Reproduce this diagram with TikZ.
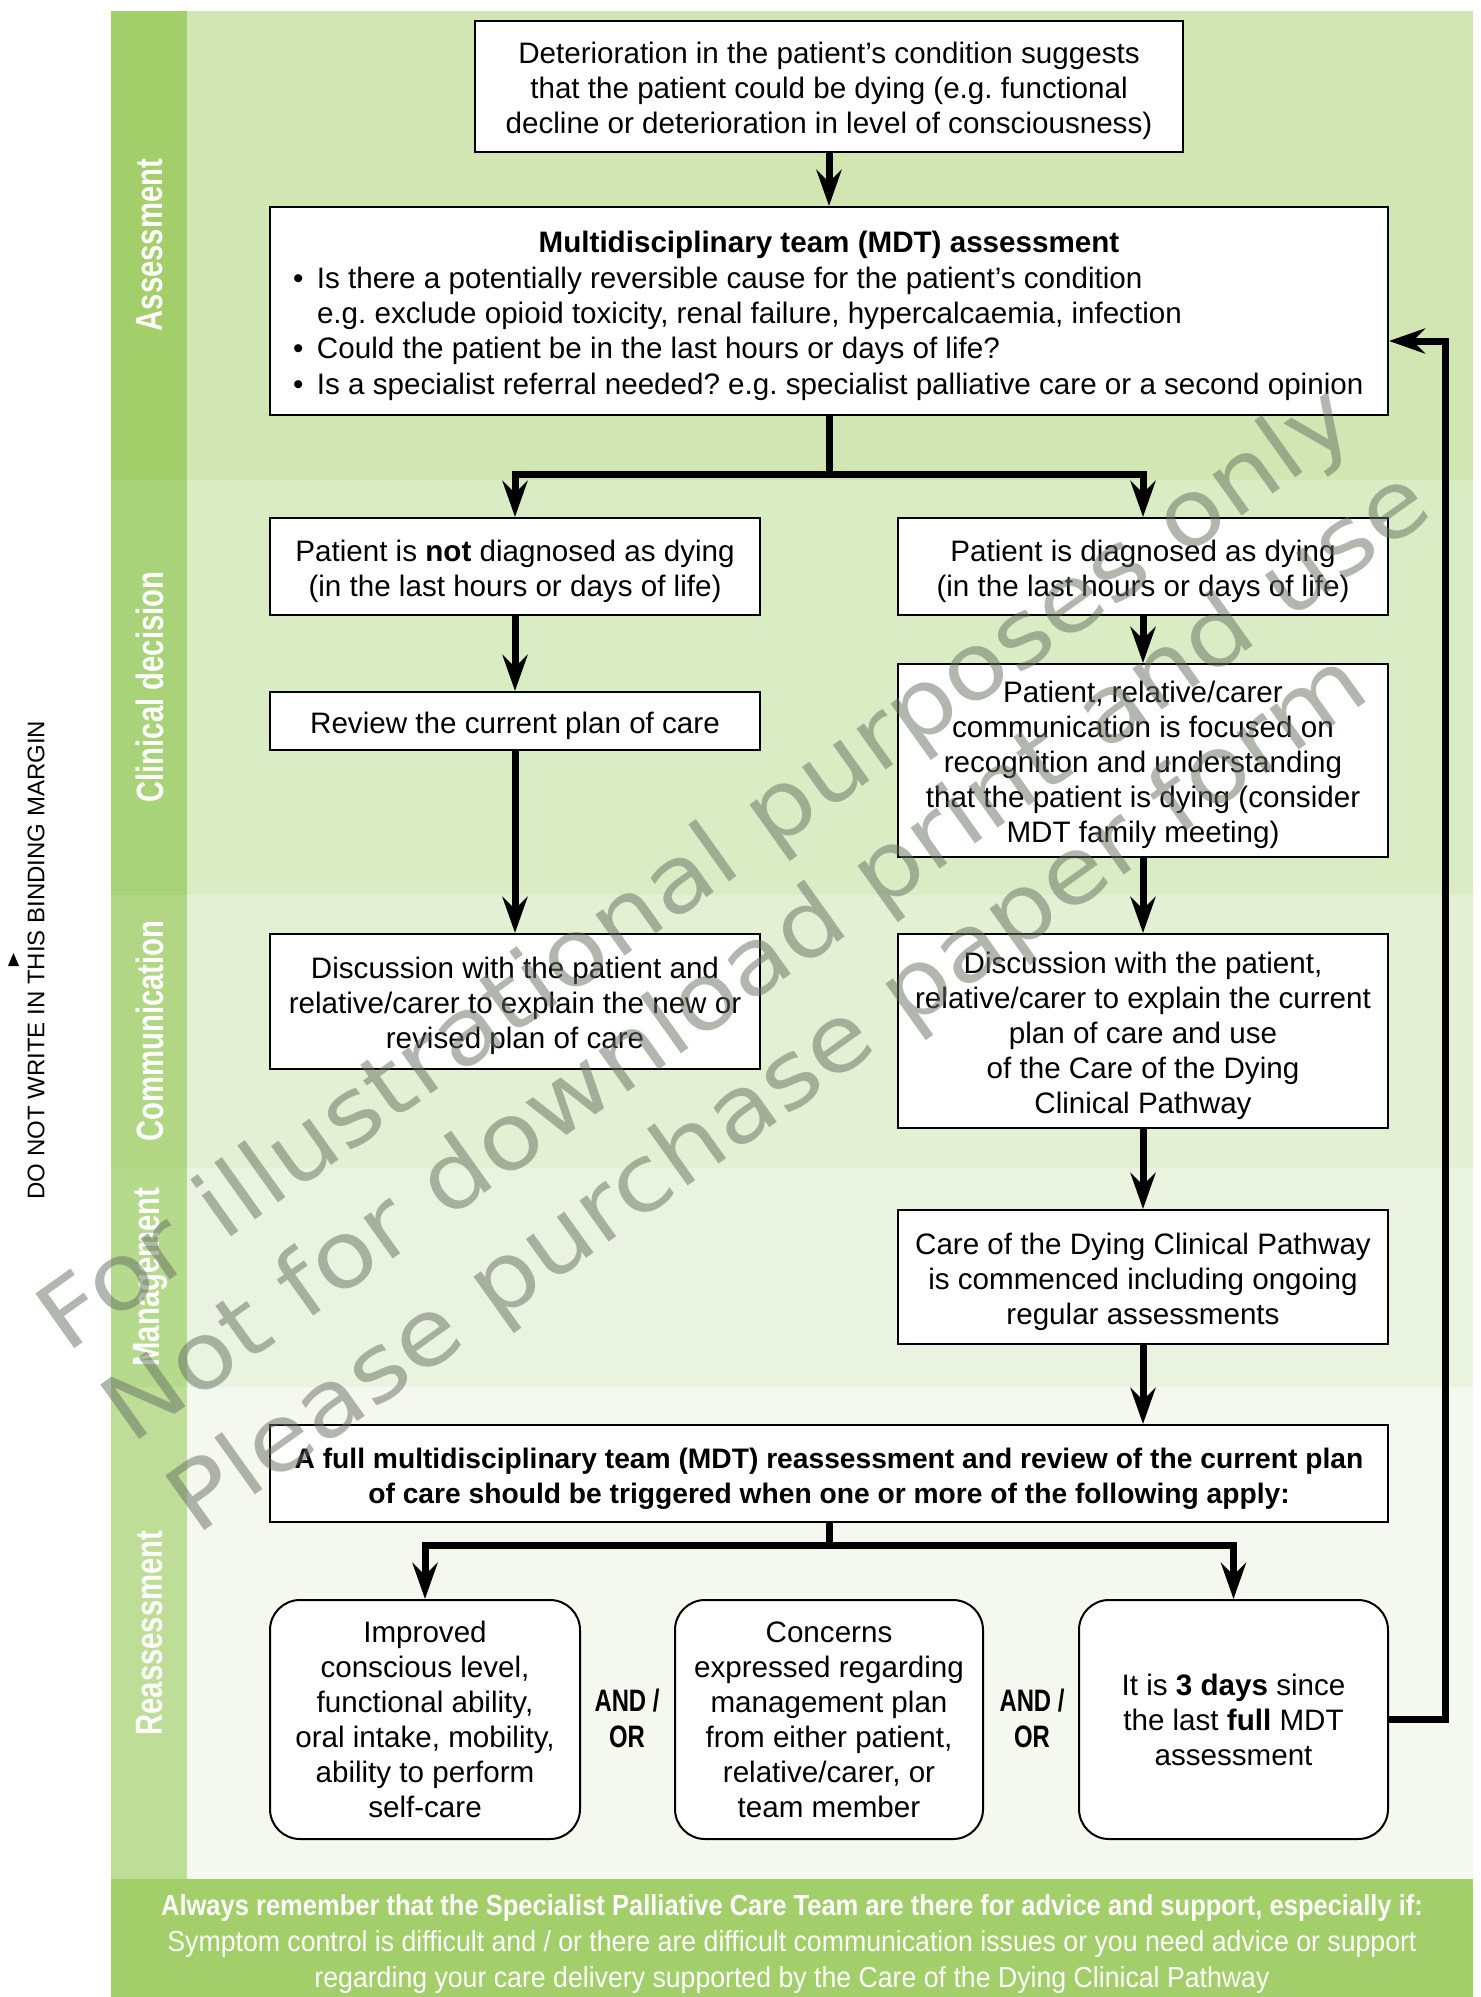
\documentclass[tikz,border=0pt]{standalone}
\usepackage{fontspec}
\setmainfont{Liberation Sans}
\newfontfamily\condfont[FakeStretch=0.77]{Liberation Sans}
\newfontfamily\footb[FakeStretch=0.88]{Liberation Sans Bold}
\newfontfamily\footr[FakeStretch=0.92]{Liberation Sans}
\newfontfamily\wmfont[FakeStretch=1.12]{DejaVu Sans}
\usetikzlibrary{arrows.meta,calc}
\newcommand\topup{\rule{0pt}{15.3pt}}
\definecolor{stripA}{RGB}{162,207,106}
\definecolor{bgA}{RGB}{209,230,179}
\definecolor{stripB}{RGB}{169,211,120}
\definecolor{bgB}{RGB}{218,236,196}
\definecolor{stripC}{RGB}{177,215,132}
\definecolor{bgC}{RGB}{227,240,211}
\definecolor{stripD}{RGB}{182,218,140}
\definecolor{bgD}{RGB}{234,243,224}
\definecolor{stripE}{RGB}{190,222,152}
\definecolor{bgE}{RGB}{245,248,239}
\definecolor{wmgray}{RGB}{100,110,95}
\begin{document}
\frenchspacing
\begin{tikzpicture}[x=0.5pt,y=-0.5pt,
  box/.style={draw=black, line width=1pt, fill=white, align=center, inner sep=0pt,
    font=\fontsize{14.8pt}{17.5pt}\selectfont},
  rbox/.style={box, rounded corners=15pt},
  flow/.style={line width=3.5pt, line join=miter, -{Stealth[length=18pt,width=12.5pt,inset=6pt]}},
  sidelab/.style={rotate=90, text=white, font=\condfont\bfseries\fontsize{19pt}{20pt}\selectfont},
  andor/.style={align=center, font=\condfont\bfseries\fontsize{15.5pt}{18pt}\selectfont},
  wm/.style={anchor=base west, rotate=35.5, text=wmgray, opacity=0.5, font=\wmfont\fontsize{46pt}{52pt}\selectfont}
]
\useasboundingbox (0,0) rectangle (1480,1997);
\fill[white] (0,0) rectangle (1480,1997);
% bands
\fill[stripA] (111,11) rectangle (187,480);
\fill[bgA] (187,11) rectangle (1473,480);
\fill[stripB] (111,480) rectangle (187,895);
\fill[bgB] (187,480) rectangle (1473,895);
\fill[stripC] (111,895) rectangle (187,1168);
\fill[bgC] (187,895) rectangle (1473,1168);
\fill[stripD] (111,1168) rectangle (187,1387);
\fill[bgD] (187,1168) rectangle (1473,1387);
\fill[stripE] (111,1387) rectangle (187,1879);
\fill[bgE] (187,1387) rectangle (1473,1879);
\fill[stripA] (111,1879) rectangle (1473,1997);
% side labels
\node[sidelab] (lA) at (150,245) {Assessment};
\node[sidelab] (lB) at (150,687) {Clinical decision};
\node[sidelab] (lC) at (150,1031) {Communication};
\node[sidelab] (lD) at (150,1277) {Management};
\node[sidelab] (lE) at (150,1633) {Reassessment};
% margin note
\node[rotate=90, font=\fontsize{12pt}{14pt}\selectfont] (margin) at (36,960) {DO NOT WRITE IN THIS BINDING MARGIN};
\fill (8,966) -- (19,966) -- (13.5,953) -- cycle;
% boxes
\node[box, minimum width=354pt, minimum height=65.5pt] (top) at (829,86.5)
  {\topup Deterioration in the patient’s condition suggests\\that the patient could be dying (e.g. functional\\decline or deterioration in level of consciousness)};
\node[box, minimum width=559pt, minimum height=104pt] (mdt) at (829,311)
  {\begin{minipage}{536pt}\fontsize{14.8pt}{17.7pt}\selectfont
   \centering\rule{0pt}{17.9pt}\textbf{Multidisciplinary team (MDT) assessment}\par
   \raggedright
   \begin{tabular}[t]{@{}p{9pt}@{\hspace{3pt}}l@{}}
   • & Is there a potentially reversible cause for the patient’s condition\\
     & e.g. exclude opioid toxicity, renal failure, hypercalcaemia, infection\\
   • & Could the patient be in the last hours or days of life?\\
   • & Is a specialist referral needed? e.g. specialist palliative care or a second opinion
   \end{tabular}\end{minipage}};
\node[box, minimum width=245pt, minimum height=48.5pt] (notdying) at (515,566.5)
  {\topup Patient is \textbf{not} diagnosed as dying\\(in the last hours or days of life)};
\node[box, minimum width=245pt, minimum height=48.5pt] (dying) at (1143,566.5)
  {\topup Patient is diagnosed as dying\\(in the last hours or days of life)};
\node[box, minimum width=245pt, minimum height=29pt] (review) at (515,721)
  {\topup Review the current plan of care};
\node[box, minimum width=245pt, minimum height=96.5pt] (comm) at (1143,760.5)
  {\topup Patient, relative/carer\\communication is focused on\\recognition and understanding\\that the patient is dying (consider\\MDT family meeting)};
\node[box, minimum width=245pt, minimum height=67.5pt] (discL) at (515,1001.5)
  {\topup Discussion with the patient and\\relative/carer to explain the new or\\revised plan of care};
\node[box, minimum width=245pt, minimum height=97pt] (discR) at (1143,1031)
  {\topup Discussion with the patient,\\relative/carer to explain the current\\plan of care and use\\of the Care of the Dying\\Clinical Pathway};
\node[box, minimum width=245pt, minimum height=67pt] (care) at (1143,1277)
  {\topup Care of the Dying Clinical Pathway\\is commenced including ongoing\\regular assessments};
\node[box, minimum width=559pt, minimum height=48.5pt, font=\bfseries\fontsize{14.1pt}{17.5pt}\selectfont] (full) at (829,1473.5)
  {\topup A full multidisciplinary team (MDT) reassessment and review of the current plan\\of care should be triggered when one or more of the following apply:};
\node[rbox, minimum width=155pt, minimum height=119.5pt] (r1) at (425,1719.5)
  {Improved\\conscious level,\\functional ability,\\oral intake, mobility,\\ability to perform\\self-care};
\node[rbox, minimum width=154pt, minimum height=119.5pt] (r2) at (829,1719.5)
  {Concerns\\expressed regarding\\management plan\\from either patient,\\relative/carer, or\\team member};
\node[rbox, minimum width=154.5pt, minimum height=119.5pt] (r3) at (1233.5,1719.5)
  {It is \textbf{3 days} since\\the last \textbf{full} MDT\\assessment};
\node[andor] (ao1) at (627,1718) {AND /\\OR};
\node[andor] (ao2) at (1032,1718) {AND /\\OR};
% connectors
\coordinate (b1) at (829,474);
\coordinate (b2) at (829,1545);
\draw[flow] (top) -- (mdt);
\draw[flow] (mdt.south) -- (b1) -| (notdying.north);
\draw[flow] (b1) -| (dying.north);
\draw[flow] (notdying) -- (review);
\draw[flow] (review) -- (discL);
\draw[flow] (dying) -- (comm);
\draw[flow] (comm) -- (discR);
\draw[flow] (discR) -- (care);
\draw[flow] (care.south) -- (care.south |- full.north);
\draw[flow] (full.south) -- (b2) -| (r1.north);
\draw[flow] (b2) -| (r3.north);
\draw[flow] (r3.east) -- ++(28pt,0) |- ([yshift=-15pt]mdt.east);
% footer
\node[align=center, text=white, font=\fontsize{14.5pt}{18pt}\selectfont] (footer) at (792,1944)
  {{\footb Always remember that the Specialist Palliative Care Team are there for advice and support, especially if:}\\
   {\footr Symptom control is difficult and / or there are difficult communication issues or you need advice or support}\\
   {\footr regarding your care delivery supported by the Care of the Dying Clinical Pathway}};
% watermark
\node[wm] (wm1) at (60.5,1358.7) {For illustrational purposes only};
\node[wm] (wm2) at (125.6,1449.9) {Not for download print and use};
\node[wm] (wm3) at (190.7,1541) {Please purchase paper form};
\end{tikzpicture}
\end{document}
